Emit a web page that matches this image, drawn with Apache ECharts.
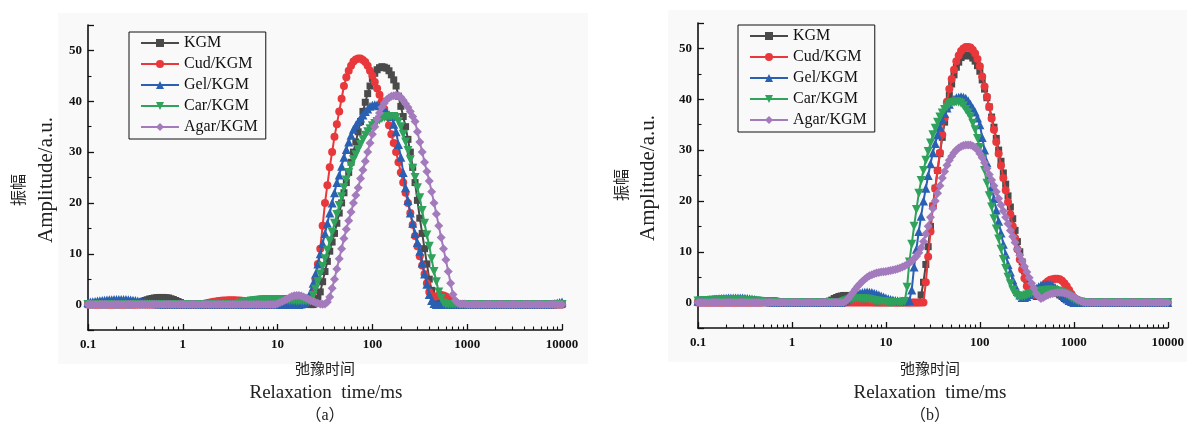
<!DOCTYPE html>
<html><head><meta charset="utf-8">
<script src="https://cdn.jsdelivr.net/npm/echarts@6/dist/echarts.min.js"></script>
<style>html,body{margin:0;padding:0;background:#fff}#c{width:1187px;height:426px}</style>
</head><body><div id="c"></div>
<script>
// relaxation-time grid: 40 points per decade (mantissas) x decades, plus final 10000 ms
const mantissa = [1.000,1.059,1.122,1.189,1.259,1.334,1.413,1.496,1.585,1.679,1.778,1.884,1.995,2.113,2.239,2.371,2.512,2.661,2.818,2.985,
  3.162,3.350,3.548,3.758,3.981,4.217,4.467,4.732,5.012,5.309,5.623,5.957,6.310,6.683,7.079,7.499,7.943,8.414,8.913,9.441];
const decades = [0.1, 1, 10, 100, 1000];
const lastTime = 10000;
const seriesNames = ['KGM', 'Cud/KGM', 'Gel/KGM', 'Car/KGM', 'Agar/KGM'];

// ---- panel (a) amplitudes ----
const aKGM = [
 0,0,0,0,0,0,0,0,0,0, 0,0,0,0,0,0,0,0,0,0, 0.1,0.25,0.4,0.6,0.8,0.95,1.1,1.2,1.3,1.35, 1.4,1.4,1.4,1.35,1.3,1.15,1.0,0.8,0.6,0.4,
 0.2,0.1,0,0,0,0,0,0,0,0, 0,0,0,0,0,0,0,0,0,0, 0,0,0,0,0,0,0,0,0,0, 0,0,0.1,0.2,0.35,0.5,0.7,0.85,1.0,1.1,
 1.15,1.2,1.2,1.15,1.1,1.0,0.9,0.75,0.6,0.45, 0.3,0.2,0.1,0.05,0,0,0.3,1.2,2.5,4.5, 6.5,8.5,10.5,12.3,14,16,18,20,22,24, 26,28,30,32,34,36,38,39.8,41.5,43,
 44.5,45.5,46.2,46.6,46.8,46.7,46.5,46,45.2,44.2, 43,41,39,37,35,32.5,30,27,24,20.5, 17,14,11,8,5,2.8,1.2,0.6,0.4,0.3, 0.3,0.2,0.2,0.2,0.2,0.2,0.2,0.2,0.2,0.2,
 0.2,0.2,0.2,0.2,0.2,0.2,0.2,0.2,0.2,0.2, 0.2,0.1,0.1,0.1,0.1,0.1,0.1,0.1,0.1,0.1, 0.1,0,0,0,0,0,0,0,0,0, 0,0,0,0,0,0,0,0,0,0,
 0];
const aCud = [
 0,0,0,0,0,0,0,0,0,0, 0,0,0,0,0,0,0,0,0,0, 0,0,0,0,0,0,0,0,0,0, 0,0,0,0,0,0,0,0,0,0,
 0,0,0,0,0,0,0,0,0.1,0.15, 0.25,0.35,0.45,0.55,0.6,0.7,0.75,0.8,0.8,0.85, 0.85,0.85,0.85,0.8,0.8,0.75,0.7,0.6,0.5,0.4, 0.3,0.2,0.1,0,0,0,0,0,0,0,
 0,0,0,0,0,0,0,0,0,0, 0,0.1,0.3,0.6,1.0,2.5,5,8,11,15.5, 20,23.5,27,30,33,35.5,38,40.5,43,44.7, 46,47,47.8,48.2,48.4,48.4,48.1,47.7,47,46,
 45,43.8,42.5,41.3,40,38.5,37,35.3,33.5,31.8, 30,28,26,24,22,20,18,15.7,13.5,11.5, 9.5,7.7,6,4.2,2.5,1.8,1.5,1.6,1.8,1.9, 1.8,1.6,1.2,0.8,0.4,0.2,0,0,0,0,
 0,0,0,0,0,0,0,0,0,0, 0,0,0,0,0,0,0,0,0,0, 0,0,0,0,0,0,0,0,0,0, 0,0,0,0,0,0,0,0,0,0,
 0];
const aGel = [
 0.4,0.5,0.55,0.6,0.7,0.75,0.8,0.85,0.9,0.95, 0.95,1.0,1.0,1.0,1.0,1.0,1.0,0.95,0.9,0.85, 0.8,0.7,0.6,0.5,0.45,0.35,0.3,0.25,0.2,0.15, 0.1,0.05,0,0,0,0,0,0,0,0,
 0,0,0,0,0,0,0,0,0,0, 0,0,0,0,0,0,0,0,0,0, 0,0,0,0,0,0,0,0,0,0, 0,0,0,0,0,0,0,0,0,0,
 0,0,0,0,0,0,0,0,0,0, 0.1,0.2,0.5,1.3,2.5,4.2,6,8,10,12, 14,16,18,20,22,24,25.5,27.2,29,30.5, 32,33.3,34.5,35.3,36,36.7,37.3,38,38.5,39,
 39.2,39.3,39.3,39.1,38.8,38.4,37.8,37.4,37,35.5, 34,31.5,29,26,23,20.5,18,16,14,12.2, 10.5,8.2,6,4,2,0.8,0.2,0,0,0, 0,0,0,0,0,0,0,0,0,0,
 0,0,0,0,0,0,0,0,0,0, 0,0,0,0,0,0,0,0,0,0, 0,0,0,0,0,0,0,0,0,0, 0,0,0,0,0,0,0.1,0.2,0.3,0.4,
 0.5];
const aCar = [
 0,0,0,0,0,0,0,0,0,0, 0,0,0,0,0,0,0,0,0,0, 0,0,0,0,0,0,0,0,0,0, 0,0,0,0,0,0,0,0,0,0,
 0,0,0,0,0,0,0,0,0,0, 0,0,0,0,0,0,0,0,0,0, 0,0,0,0,0.2,0.3,0.4,0.5,0.6,0.7, 0.75,0.8,0.85,0.9,0.95,1.0,1.0,1.0,1.0,1.0,
 1.0,0.95,0.9,0.9,0.85,0.8,0.8,0.75,0.7,0.7, 0.7,0.7,0.7,0.75,0.9,1.8,3,4.5,6,7.5, 9,10.7,12.5,14.2,16,17.7,19.5,21.2,23,24.5, 26,27.3,28.5,29.5,30.5,31.5,32.5,33.3,34,34.6,
 35.2,35.6,36,36.3,36.6,36.8,37,37,37,37, 36.8,36,35,33.5,32,30.3,28.5,26.8,25,23, 21,18.5,16,13.7,11.5,9,6.5,4.5,2.5,1.2, 0.3,0,0,0,0,0,0,0,0,0,
 0,0,0,0,0,0,0,0,0,0, 0,0,0,0,0,0,0,0,0,0, 0,0,0,0,0,0,0,0,0,0, 0,0,0,0,0,0,0,0,0,0,
 0];
const aAgar = [
 0,0,0,0,0,0,0,0,0,0, 0,0,0,0,0,0,0,0,0,0, 0,0,0,0,0,0,0,0,0,0, 0,0,0,0,0,0,0,0,0,0,
 0,0,0,0,0,0,0,0,0,0, 0,0,0,0,0,0,0,0,0,0, 0,0,0,0,0,0,0,0,0,0, 0,0,0,0,0,0,0,0,0,0,
 0.2,0.4,0.6,0.85,1.1,1.35,1.6,1.75,1.8,1.8, 1.7,1.5,1.3,1.05,0.8,0.6,0.4,0.25,0.1,0.05, 0.1,0.5,1.5,3.2,5,7,9,11,13,14.8, 16.5,18.2,20,21.5,23,24.8,26.5,28.2,30,31.8,
 33.5,35,36.5,37.7,38.8,39.6,40.3,40.7,41,41.1, 41.2,41.1,40.8,40.2,39.5,38.8,38,37,36,34, 32,30,28,26.2,24.3,22.2,20,17.8,15.5,13.2, 11,8.8,6.5,4.2,2,0.8,0.3,0.1,0.1,0.1,
 0,0,0,0,0,0,0,0,0,0, 0,0,0,0,0,0,0,0,0,0, 0,0,0,0,0,0,0,0,0,0, 0,0,0,0,0,0,0,0,0,0,
 0];

// ---- panel (b) amplitudes ----
const bKGM = [
 0,0,0,0,0,0,0,0,0,0, 0,0,0,0,0,0,0,0,0,0, 0,0,0,0,0,0,0,0,0,0, 0,0,0,0,0,0,0,0,0,0,
 0,0,0,0,0,0,0,0,0,0, 0,0,0,0,0,0,0.3,0.5,0.8,1.0, 1.2,1.3,1.4,1.4,1.4,1.3,1.2,1.05,0.9,0.75, 0.6,0.45,0.3,0.2,0.1,0,0,0,0,0,
 0,0,0,0,0,0,0,0,0,0, 0,0,0,0,0,1.5,4,7.5,11,15, 19,22.5,26,29.3,32.5,35.5,38.5,40.8,43,44.8, 46.3,47.3,48.2,48.5,48.7,48.7,48.5,48.1,47.5,46.6,
 45.5,43.8,42,40.3,38.5,36.5,34.5,32.3,30,27.8, 25.5,23.3,21,18.8,16.5,14.2,12,10,8,6.2, 4.5,3.2,2,1.5,1.2,1.3,1.5,1.8,2,2.1, 2.2,2.1,2,1.8,1.5,1.2,0.8,0.5,0.3,0.1,
 0,0,0,0,0,0,0,0,0,0, 0,0,0,0,0,0,0,0,0,0, 0,0,0,0,0,0,0,0,0,0, 0,0,0,0,0,0,0,0,0,0,
 0];
const bCud = [
 0,0,0,0,0,0,0,0,0,0, 0,0,0,0,0,0,0,0,0,0, 0,0,0,0,0,0,0,0,0.1,0.2, 0.3,0.3,0.3,0.3,0.2,0.1,0.05,0,0,0,
 0,0,0,0,0,0,0,0,0,0, 0,0,0,0,0,0,0,0,0,0, 0,0,0,0,0,0,0,0,0,0, 0,0,0,0,0,0,0,0,0,0,
 0,0,0,0,0,0,0,0,0,0, 0,0,0,0,0,0,0,4,9,14, 19,22.5,26,29.5,33,36.3,39.5,42,44,45.8, 47.5,48.6,49.5,50,50.3,50.3,50.2,49.7,49,47.9,
 46.5,44.5,42.5,40.5,38.5,36.2,34,31.6,29.3,26.9, 24.5,22.1,19.8,17.4,15,12.7,10.5,8.5,6.5,4.8, 3.2,2.2,1.5,1.5,1.8,2.3,2.8,3.3,3.8,4.2, 4.5,4.6,4.7,4.7,4.6,4.3,3.8,3.2,2.5,1.7,
 1.0,0.5,0.2,0,0,0,0,0,0,0, 0,0,0,0,0,0,0,0,0,0, 0,0,0,0,0,0,0,0,0,0, 0,0,0,0,0,0,0,0,0,0,
 0];
const bGel = [
 0.3,0.35,0.4,0.45,0.5,0.55,0.6,0.65,0.7,0.75, 0.8,0.85,0.85,0.9,0.9,0.9,0.9,0.9,0.9,0.9, 0.85,0.8,0.75,0.7,0.6,0.5,0.4,0.3,0.25,0.2, 0.15,0.1,0.05,0,0,0,0,0,0,0,
 0,0,0,0,0,0,0,0,0,0, 0,0,0,0,0,0,0,0,0,0, 0,0,0.3,0.5,0.8,1.05,1.3,1.5,1.7,1.85, 2.0,2.05,2.1,2.05,2.0,1.85,1.7,1.5,1.3,1.1,
 0.9,0.75,0.6,0.5,0.4,0.35,0.3,0.3,0.3,0.35, 0.4,2.5,7,10.5,14,17,20,22.5,25,27.3, 29.5,31.3,33,34.5,36,37.2,38.3,39,39.7,40, 40.3,40.4,40.5,40.4,40.2,39.7,39,38.3,37.5,36.3,
 35,32.5,30,27.5,25,22.7,20.5,18.2,16,13.7, 11.5,9.5,7.5,6,4.5,3.3,2.2,1.5,1,1, 1.2,1.6,2,2.4,2.8,3.1,3.4,3.5,3.6,3.6, 3.5,3.3,3,2.6,2.2,1.7,1.2,0.8,0.4,0.2,
 0,0,0,0,0,0,0,0,0,0, 0,0,0,0,0,0,0,0,0,0, 0,0,0,0,0,0,0,0,0,0, 0,0,0,0,0,0,0,0,0,0,
 0];
const bCar = [
 0.3,0.3,0.35,0.35,0.4,0.4,0.45,0.45,0.5,0.5, 0.5,0.5,0.5,0.5,0.5,0.5,0.5,0.5,0.45,0.45, 0.4,0.4,0.35,0.35,0.3,0.3,0.25,0.2,0.15,0.1, 0.1,0.05,0,0,0,0,0,0,0,0,
 0,0,0,0,0,0,0,0,0,0, 0,0,0,0,0,0,0,0,0,0, 0,0,0.2,0.35,0.5,0.6,0.7,0.75,0.8,0.8, 0.8,0.75,0.7,0.6,0.5,0.4,0.3,0.25,0.2,0.15,
 0.1,0.05,0,0,0,0,0,0,0.2,3, 8,11.5,15,18.3,21.5,24,26,28,29.7,31.4, 33,34.3,35.5,36.5,37.3,38,38.5,39,39.3,39.4, 39.5,39.4,39.2,38.7,38,37.3,36.5,35.3,34,32.3,
 30.5,28.3,26,23.5,21,18.8,16.5,14.5,12.5,10.5, 8.5,6.7,5,3.7,2.5,1.8,1.3,1.2,1.2,1.3, 1.5,1.65,1.8,1.95,2.1,2.2,2.3,2.35,2.4,2.45, 2.5,2.45,2.4,2.3,2.2,2,1.8,1.5,1.2,0.9,
 0.6,0.4,0.2,0.1,0,0,0,0,0,0, 0,0,0,0,0,0,0,0,0,0, 0,0,0,0,0,0,0,0,0,0, 0,0,0,0,0,0,0,0,0,0,
 0];
const bAgar = [
 0,0,0,0,0,0,0,0,0,0, 0,0,0,0,0,0,0,0,0,0, 0,0,0,0,0,0,0,0,0,0, 0,0,0,0,0,0,0,0,0,0,
 0,0,0,0,0,0,0,0,0,0, 0,0,0,0,0,0,0,0,0,0, 0,0,0,0.3,0.8,1.4,2,2.6,3.2,3.7, 4.2,4.6,5,5.3,5.5,5.65,5.8,5.9,6,6.05,
 6.1,6.2,6.3,6.4,6.5,6.65,6.8,7,7.2,7.5, 7.8,8.2,8.6,9.1,9.8,10.8,12,13.5,15,16.8, 18.5,20,21.5,23,24.5,25.8,27,28,28.8,29.5, 30,30.4,30.7,30.9,31,31,31,30.8,30.5,30,
 29.3,28.5,27.5,26.4,25.2,24.1,23,21.8,20.5,19.2, 18,16.8,15.5,14.2,13,11.8,10.5,9.3,8.2,7.1, 6,4.9,3.8,2.8,1.8,1.2,0.8,1,1.3,1.5, 1.7,1.8,1.9,2,2,2,1.9,1.8,1.6,1.35,
 1.1,0.8,0.5,0.3,0.1,0,0,0,0,0, 0,0,0,0,0,0,0,0,0,0, 0,0,0,0,0,0,0,0,0,0, 0,0,0,0,0,0,0,0,0,0,
 0];

const panelA = [aKGM, aCud, aGel, aCar, aAgar];
const panelB = [bKGM, bCud, bGel, bCar, bAgar];

// ---- styles ----
const colors = ['#4a4a4a', '#e8383b', '#2a60b2', '#2fa25c', '#a37bbd'];
const symbols = ['rect', 'circle', 'triangle', 'triangle', 'diamond'];
const symbolRot = [0, 0, 0, 180, 0];
const symbolSizes = [7, 8, 9, 9, 9];
const SERIF = 'Liberation Serif, Times New Roman, serif';
const CJK = 'Noto Sans CJK SC';

const times = [];
decades.forEach(d => mantissa.forEach(m => times.push(+(m * d).toPrecision(4))));
times.push(lastTime);

function makeSeries(panel, g) {
  return panel.map((vals, k) => ({
    name: seriesNames[k], type: 'line', xAxisIndex: g, yAxisIndex: g,
    data: times.map((t, i) => [t, vals[i]]),
    symbol: symbols[k], symbolSize: symbolSizes[k], symbolRotate: symbolRot[k],
    showSymbol: true, showAllSymbol: true,
    lineStyle: { width: 2, color: colors[k] }, itemStyle: { color: colors[k] },
    animation: false, z: 2 + k
  }));
}
function makeX(g) {
  return {
    type: 'log', logBase: 10, gridIndex: g, min: 0.1, max: 10000,
    axisLine: { onZero: false, lineStyle: { color: '#111', width: 1.6 } },
    axisTick: { inside: true, length: 6, lineStyle: { color: '#111', width: 1.3 } },
    minorTick: { show: true, splitNumber: 9, length: 3.5, lineStyle: { color: '#111', width: 1.1 } },
    splitLine: { show: false }, minorSplitLine: { show: false },
    axisLabel: { fontFamily: SERIF, fontWeight: 'bold', fontSize: 13, color: '#111', margin: 8,
      formatter: v => String(Number((+v).toPrecision(6))) }
  };
}
function makeY(g) {
  return {
    type: 'value', gridIndex: g, min: -5, max: 55, splitNumber: 6,
    axisLine: { show: true, lineStyle: { color: '#111', width: 1.6 } },
    axisTick: { show: true, inside: true, length: 6, lineStyle: { color: '#111', width: 1.3 } },
    minorTick: { show: true, splitNumber: 2, length: 3.5, lineStyle: { color: '#111', width: 1.1 } },
    splitLine: { show: false },
    axisLabel: { fontFamily: SERIF, fontWeight: 'bold', fontSize: 13, color: '#111', margin: 6,
      formatter: v => (Math.abs(v % 10) < 1e-9 ? String(v) : '') }
  };
}
function makeLegend(left, top) {
  return {
    left, top, orient: 'vertical', data: seriesNames,
    borderColor: '#111', borderWidth: 1, padding: [3, 8, 4, 11],
    itemWidth: 38, itemHeight: 10, itemGap: 5,
    textStyle: { fontFamily: SERIF, fontSize: 16, color: '#111', lineHeight: 16 }
  };
}
function txt(text, x, y, size, font, rot) {
  return { type: 'text', x, y, rotation: rot || 0, z: 10,
    style: { text, fontSize: size, fontFamily: font, fill: '#222', align: 'center', verticalAlign: 'middle' } };
}

const chart = echarts.init(document.getElementById('c'), null, { renderer: 'canvas' });
chart.setOption({
  backgroundColor: '#ffffff',
  animation: false,
  grid: [
    { left: 88, top: 25, width: 474, height: 305 },
    { left: 698, top: 23, width: 472, height: 305 }
  ],
  xAxis: [makeX(0), makeX(1)],
  yAxis: [makeY(0), makeY(1)],
  legend: [makeLegend(129, 32), makeLegend(738, 25)],
  series: makeSeries(panelA, 0).concat(makeSeries(panelB, 1)),
  graphic: [
    { type: 'rect', z: -10, shape: { x: 58, y: 13, width: 530, height: 351 }, style: { fill: '#f9f9f9' } },
    { type: 'rect', z: -10, shape: { x: 668, y: 10, width: 519, height: 352 }, style: { fill: '#f9f9f9' } },
    txt('振幅', 18, 190, 16, CJK, Math.PI / 2),
    txt('Amplitude/a.u.', 46, 180, 21, SERIF, Math.PI / 2),
    txt('弛豫时间', 325, 368, 15, CJK),
    txt('Relaxation  time/ms', 326, 393, 19, SERIF),
    txt('（a）', 325, 416, 16, SERIF + ', ' + CJK),
    txt('振幅', 621, 185, 16, CJK, Math.PI / 2),
    txt('Amplitude/a.u.', 648, 178, 21, SERIF, Math.PI / 2),
    txt('弛豫时间', 930, 368, 15, CJK),
    txt('Relaxation  time/ms', 930, 393, 19, SERIF),
    txt('（b）', 930, 416, 16, SERIF + ', ' + CJK)
  ]
});
</script>
</body></html>
